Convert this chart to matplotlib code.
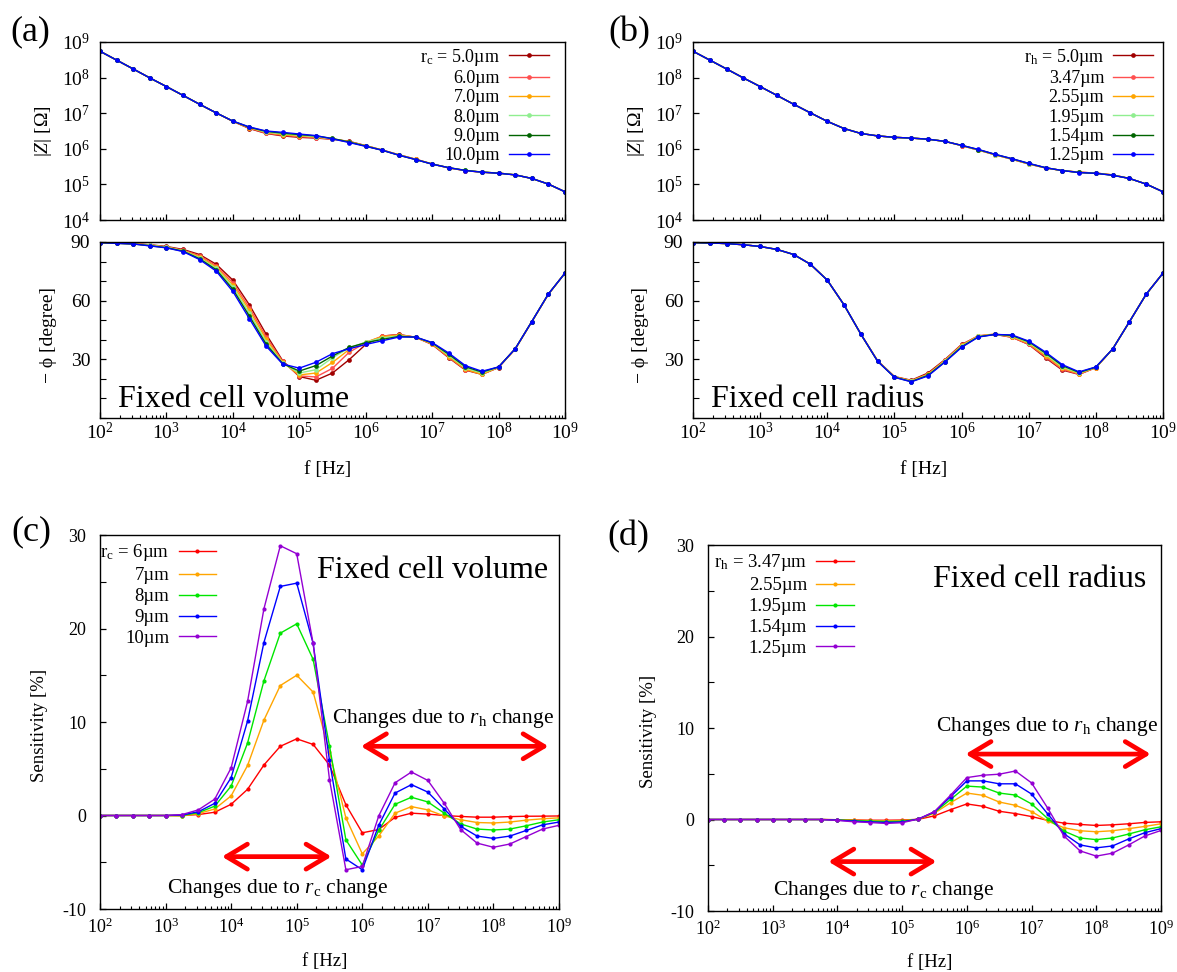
import matplotlib
matplotlib.use("Agg")
import matplotlib.pyplot as plt
from matplotlib.ticker import (LogLocator, LogFormatterMathtext, NullFormatter,
                               NullLocator, MultipleLocator, FixedLocator)

plt.rcParams.update({
    "font.family": ["Liberation Serif", "DejaVu Serif"],
    "mathtext.fontset": "custom",
    "mathtext.rm": "Liberation Serif",
    "mathtext.it": "Liberation Serif:italic",
    "mathtext.bf": "Liberation Serif:bold",
    "axes.unicode_minus": False,
    "xtick.direction": "in",
    "ytick.direction": "in",
    "axes.linewidth": 1.0,
})

# ── data ──────────────────────────────────────────────────────────────────────
FREQ_HZ = [1.00e2, 1.78e2, 3.16e2, 5.62e2, 1.00e3, 1.78e3, 3.16e3, 5.62e3,
           1.00e4, 1.78e4, 3.16e4, 5.62e4, 1.00e5, 1.78e5, 3.16e5, 5.62e5,
           1.00e6, 1.78e6, 3.16e6, 5.62e6, 1.00e7, 1.78e7, 3.16e7, 5.62e7,
           1.00e8, 1.78e8, 3.16e8, 5.62e8, 1.00e9]

# (a) fixed cell volume, |Z| [Ohm]
Z_RC_50 = [5.5e8, 3.1e8, 1.75e8, 9.8e7, 5.6e7, 3.16e7, 1.78e7, 1.02e7, 5.9e6,
           3.7e6, 2.7e6, 2.3e6, 2.1e6, 2.0e6, 1.86e6, 1.62e6, 1.23e6, 9.2e5,
           6.8e5, 5.1e5, 3.75e5, 2.9e5, 2.45e5, 2.2e5, 2.08e5, 1.85e5, 1.47e5,
           1.02e5, 6.2e4]
Z_RC_60 = [5.5e8, 3.1e8, 1.75e8, 9.8e7, 5.6e7, 3.16e7, 1.78e7, 1.02e7, 5.9e6,
           3.8e6, 2.75e6, 2.4e6, 2.2e6, 2.05e6, 1.86e6, 1.58e6, 1.22e6, 9.2e5,
           6.8e5, 5.1e5, 3.75e5, 2.9e5, 2.45e5, 2.2e5, 2.08e5, 1.85e5, 1.47e5,
           1.02e5, 6.2e4]
Z_RC_70 = [5.5e8, 3.1e8, 1.75e8, 9.8e7, 5.6e7, 3.16e7, 1.78e7, 1.02e7, 5.95e6,
           3.9e6, 2.9e6, 2.5e6, 2.3e6, 2.15e6, 1.9e6, 1.58e6, 1.21e6, 9.15e5,
           6.7e5, 5.05e5, 3.75e5, 2.92e5, 2.45e5, 2.2e5, 2.08e5, 1.85e5, 1.47e5,
           1.02e5, 6.2e4]
Z_RC_80 = [5.5e8, 3.1e8, 1.75e8, 9.8e7, 5.6e7, 3.16e7, 1.78e7, 1.02e7, 6.0e6,
           4.0e6, 2.95e6, 2.63e6, 2.4e6, 2.2e6, 1.9e6, 1.55e6, 1.2e6, 9.1e5,
           6.7e5, 5.0e5, 3.72e5, 2.93e5, 2.47e5, 2.22e5, 2.08e5, 1.85e5, 1.47e5,
           1.02e5, 6.2e4]
Z_RC_90 = [5.5e8, 3.1e8, 1.75e8, 9.8e7, 5.6e7, 3.16e7, 1.78e7, 1.02e7, 6.0e6,
           4.0e6, 3.1e6, 2.75e6, 2.5e6, 2.3e6, 1.95e6, 1.55e6, 1.19e6, 9.1e5,
           6.6e5, 5.0e5, 3.72e5, 2.95e5, 2.48e5, 2.22e5, 2.07e5, 1.85e5, 1.47e5,
           1.02e5, 6.2e4]
Z_RC_100 = [5.5e8, 3.1e8, 1.75e8, 9.8e7, 5.6e7, 3.16e7, 1.78e7, 1.02e7, 6.0e6,
            4.1e6, 3.16e6, 2.9e6, 2.6e6, 2.35e6, 1.9e6, 1.5e6, 1.17e6, 9.1e5,
            6.6e5, 5.0e5, 3.7e5, 2.95e5, 2.45e5, 2.2e5, 2.05e5, 1.85e5, 1.47e5,
            1.02e5, 6.2e4]

# (a) fixed cell volume, -phase [degree]
P_RC_50 = [89.7, 89.5, 89.2, 88.6, 87.7, 86.2, 83.6, 78.6, 70.5, 57.8, 42.9,
           29.3, 21.2, 19.3, 23.0, 29.8, 37.6, 41.9, 42.7, 41.3, 37.6, 30.8,
           24.5, 22.3, 25.8, 35.3, 49.2, 63.3, 74.1]
P_RC_60 = [89.7, 89.4, 89.1, 88.5, 87.5, 85.8, 83.0, 77.8, 69.2, 56.3, 41.5,
           28.9, 21.5, 21.0, 25.4, 33.6, 38.5, 41.9, 42.6, 41.3, 37.7, 31.0,
           24.7, 22.4, 25.9, 35.3, 49.2, 63.3, 74.1]
P_RC_70 = [89.7, 89.4, 89.1, 88.4, 87.4, 85.6, 82.4, 77.1, 68.0, 55.0, 40.3,
           28.5, 22.0, 23.0, 28.4, 35.0, 38.8, 41.6, 42.4, 41.3, 37.9, 31.4,
           25.0, 22.3, 26.0, 35.3, 49.2, 63.3, 74.1]
P_RC_80 = [89.7, 89.4, 89.0, 88.3, 87.3, 85.5, 81.9, 76.5, 67.0, 53.5, 39.0,
           28.1, 23.0, 24.7, 30.8, 35.8, 38.8, 41.0, 42.0, 41.4, 38.2, 32.0,
           25.6, 23.0, 26.0, 35.4, 49.3, 63.4, 74.1]
P_RC_90 = [89.7, 89.3, 89.0, 88.1, 87.1, 85.3, 81.4, 75.8, 65.8, 52.0, 37.8,
           27.8, 24.0, 26.8, 31.7, 36.1, 38.5, 40.2, 41.7, 41.4, 38.4, 32.6,
           26.2, 23.5, 26.1, 35.4, 49.3, 63.4, 74.1]
P_RC_100 = [89.7, 89.3, 89.0, 88.0, 87.0, 85.1, 81.0, 75.1, 64.7, 50.7, 36.8,
            27.6, 25.5, 28.5, 32.9, 35.4, 37.6, 39.5, 41.4, 41.4, 38.6, 33.2,
            26.8, 23.9, 26.1, 35.4, 49.3, 63.4, 74.1]

# (b) fixed cell radius, |Z| [Ohm]
Z_RH_500 = Z_RC_50
Z_RH_347 = [5.5e8, 3.1e8, 1.75e8, 9.8e7, 5.6e7, 3.16e7, 1.78e7, 1.02e7, 5.9e6,
            3.7e6, 2.7e6, 2.3e6, 2.1e6, 2.0e6, 1.86e6, 1.62e6, 1.23e6, 9.25e5,
            6.8e5, 5.1e5, 3.75e5, 2.9e5, 2.45e5, 2.2e5, 2.08e5, 1.84e5, 1.47e5,
            1.02e5, 6.2e4]
Z_RH_255 = [5.5e8, 3.1e8, 1.75e8, 9.8e7, 5.6e7, 3.16e7, 1.78e7, 1.02e7, 5.9e6,
            3.7e6, 2.7e6, 2.3e6, 2.1e6, 2.0e6, 1.86e6, 1.62e6, 1.24e6, 9.3e5,
            6.85e5, 5.15e5, 3.8e5, 2.92e5, 2.45e5, 2.18e5, 2.07e5, 1.83e5, 1.47e5,
            1.02e5, 6.2e4]
Z_RH_195 = [5.5e8, 3.1e8, 1.75e8, 9.8e7, 5.6e7, 3.16e7, 1.78e7, 1.02e7, 5.9e6,
            3.7e6, 2.7e6, 2.3e6, 2.1e6, 2.0e6, 1.86e6, 1.62e6, 1.24e6, 9.4e5,
            6.9e5, 5.2e5, 3.85e5, 2.93e5, 2.45e5, 2.17e5, 2.06e5, 1.82e5, 1.47e5,
            1.02e5, 6.2e4]
Z_RH_154 = [5.5e8, 3.1e8, 1.75e8, 9.8e7, 5.6e7, 3.16e7, 1.78e7, 1.02e7, 5.9e6,
            3.7e6, 2.7e6, 2.3e6, 2.1e6, 2.0e6, 1.86e6, 1.62e6, 1.25e6, 9.5e5,
            6.95e5, 5.25e5, 3.87e5, 2.94e5, 2.45e5, 2.16e5, 2.05e5, 1.81e5, 1.47e5,
            1.02e5, 6.2e4]
Z_RH_125 = [5.5e8, 3.1e8, 1.75e8, 9.8e7, 5.6e7, 3.16e7, 1.78e7, 1.02e7, 5.9e6,
            3.7e6, 2.7e6, 2.3e6, 2.1e6, 2.0e6, 1.86e6, 1.62e6, 1.25e6, 9.6e5,
            7.0e5, 5.3e5, 3.9e5, 2.95e5, 2.45e5, 2.15e5, 2.05e5, 1.8e5, 1.47e5,
            1.02e5, 6.2e4]

# (b) fixed cell radius, -phase [degree]
P_RH_500 = P_RC_50
P_RH_347 = [89.7, 89.5, 89.2, 88.6, 87.7, 86.2, 83.6, 78.6, 70.5, 57.8, 42.9,
            29.2, 21.1, 19.1, 22.5, 29.5, 37.4, 42.1, 42.9, 41.3, 37.7, 31.3,
            24.9, 22.4, 25.7, 35.3, 49.2, 63.3, 74.1]
P_RH_255 = [89.7, 89.5, 89.2, 88.6, 87.7, 86.2, 83.6, 78.6, 70.5, 57.8, 42.9,
            29.1, 21.0, 19.0, 22.3, 29.3, 37.1, 41.9, 42.9, 41.6, 38.1, 31.9,
            25.5, 22.7, 25.8, 35.3, 49.2, 63.3, 74.1]
P_RH_195 = [89.7, 89.5, 89.2, 88.6, 87.7, 86.2, 83.6, 78.6, 70.5, 57.8, 42.9,
            29.1, 20.9, 18.8, 22.0, 29.0, 36.8, 41.7, 42.8, 41.9, 38.6, 32.6,
            26.1, 23.0, 25.9, 35.3, 49.2, 63.3, 74.1]
P_RH_154 = [89.7, 89.5, 89.2, 88.6, 87.7, 86.2, 83.6, 78.6, 70.5, 57.8, 42.9,
            29.0, 20.9, 18.6, 21.8, 28.7, 36.4, 41.5, 42.8, 42.2, 39.0, 33.2,
            26.8, 23.3, 26.0, 35.3, 49.2, 63.3, 74.1]
P_RH_125 = [89.7, 89.5, 89.2, 88.6, 87.7, 86.2, 83.6, 78.6, 70.5, 57.8, 42.9,
            29.0, 20.8, 18.5, 21.5, 28.5, 36.1, 41.4, 42.7, 42.5, 39.3, 33.7,
            27.3, 23.6, 26.1, 35.3, 49.2, 63.3, 74.1]

# (c) sensitivity [%], fixed cell volume
S_RC_6 = [0, 0, 0, 0, 0, 0.0, 0.1, 0.35, 1.2, 2.8, 5.4, 7.4, 8.2, 7.6, 5.4,
          1.15, -1.85, -1.5, -0.2, 0.25, 0.15, 0.0, -0.1, -0.18, -0.18, -0.12,
          -0.08, -0.07, -0.05]
S_RC_7 = [0, 0, 0, 0, 0, -0.05, 0.2, 0.7, 2.1, 5.35, 10.2, 13.9, 15.0, 13.2,
          6.8, -0.25, -4.1, -2.2, 0.25, 0.95, 0.6, -0.05, -0.45, -0.75, -0.8,
          -0.7, -0.5, -0.35, -0.25]
S_RC_8 = [0, 0, 0, 0, 0, 0.0, 0.3, 1.0, 3.15, 7.75, 14.4, 19.5, 20.5, 16.7,
          7.45, -2.6, -5.3, -1.6, 1.2, 1.95, 1.45, 0.25, -0.9, -1.45, -1.55,
          -1.45, -1.1, -0.7, -0.45]
S_RC_9 = [0, 0, 0, 0, 0, 0.05, 0.4, 1.3, 4.05, 10.1, 18.5, 24.5, 24.85, 18.4,
          5.9, -4.65, -5.8, -1.05, 2.4, 3.3, 2.5, 0.7, -1.15, -2.2, -2.45,
          -2.2, -1.6, -1.0, -0.7]
S_RC_10 = [0, 0, 0, 0, 0, 0.1, 0.6, 1.75, 5.1, 12.2, 22.1, 28.85, 28.0, 18.4,
           3.85, -5.8, -5.45, -0.05, 3.5, 4.65, 3.75, 1.3, -1.5, -2.95, -3.4,
           -3.05, -2.25, -1.45, -1.05]

# (d) sensitivity [%], fixed cell radius
S_RH_347 = [0, 0, 0, 0, 0, 0, 0, 0, -0.02, -0.05, -0.08, -0.08, -0.06, 0.02,
            0.4, 1.08, 1.7, 1.44, 0.9, 0.65, 0.32, -0.1, -0.4, -0.54, -0.65,
            -0.58, -0.47, -0.32, -0.25]
S_RH_255 = [0, 0, 0, 0, 0, 0, 0, 0, -0.03, -0.08, -0.12, -0.14, -0.12, 0.03,
            0.7, 1.84, 2.89, 2.64, 1.91, 1.55, 0.87, -0.18, -0.9, -1.23, -1.34,
            -1.23, -1.0, -0.76, -0.47]
S_RH_195 = [0, 0, 0, 0, 0, 0, 0, 0, -0.05, -0.12, -0.18, -0.22, -0.2, 0.04,
            0.78, 2.2, 3.65, 3.54, 2.89, 2.67, 1.7, 0.1, -1.26, -2.02, -2.2,
            -2.02, -1.59, -1.12, -0.8]
S_RH_154 = [0, 0, 0, 0, 0, 0, 0, 0, -0.07, -0.18, -0.26, -0.32, -0.27, 0.05,
            0.83, 2.5, 4.22, 4.22, 3.9, 3.9, 2.78, 0.6, -1.55, -2.78, -3.1,
            -2.89, -2.13, -1.44, -1.0]
S_RH_125 = [0, 0, 0, 0, 0, 0, 0, 0, -0.1, -0.25, -0.33, -0.43, -0.35, 0.05,
            0.87, 2.67, 4.58, 4.84, 4.95, 5.3, 4.0, 1.23, -1.8, -3.43, -4.0,
            -3.68, -2.78, -1.8, -1.2]

LABELS_A = [r"r$_\mathrm{c}$ = 5.0µm", "6.0µm", "7.0µm", "8.0µm", "9.0µm", "10.0µm"]
LABELS_B = [r"r$_\mathrm{h}$ = 5.0µm", "3.47µm", "2.55µm", "1.95µm", "1.54µm", "1.25µm"]
LABELS_C = [r"r$_\mathrm{c}$ = 6µm", "7µm", "8µm", "9µm", "10µm"]
LABELS_D = [r"r$_\mathrm{h}$ = 3.47µm", "2.55µm", "1.95µm", "1.54µm", "1.25µm"]

COLORS_AB = ["#a00000", "#ff5050", "#ffa500", "#90ee90", "#006400", "#0000ff"]
COLORS_CD = ["#ff0000", "#ffa500", "#00e600", "#0000ff", "#9400d3"]

Z_A = [Z_RC_50, Z_RC_60, Z_RC_70, Z_RC_80, Z_RC_90, Z_RC_100]
P_A = [P_RC_50, P_RC_60, P_RC_70, P_RC_80, P_RC_90, P_RC_100]
Z_B = [Z_RH_500, Z_RH_347, Z_RH_255, Z_RH_195, Z_RH_154, Z_RH_125]
P_B = [P_RH_500, P_RH_347, P_RH_255, P_RH_195, P_RH_154, P_RH_125]
S_C = [S_RC_6, S_RC_7, S_RC_8, S_RC_9, S_RC_10]
S_D = [S_RH_347, S_RH_255, S_RH_195, S_RH_154, S_RH_125]

W, H = 1177, 972
RED = "#ff0000"


# ── helpers ───────────────────────────────────────────────────────────────────
def axes_px(fig, left, top, right, bottom):
    """Axes from pixel box (origin top-left)."""
    return fig.add_axes([left / W, 1 - bottom / H, (right - left) / W, (bottom - top) / H])


def log_x(ax, labels, size, pad):
    ax.set_xscale("log")
    ax.set_xlim(1e2, 1e9)
    ax.xaxis.set_major_locator(LogLocator(base=10, numticks=20))
    ax.xaxis.set_minor_locator(LogLocator(base=10, subs=range(2, 10), numticks=20))
    ax.xaxis.set_minor_formatter(NullFormatter())
    ax.xaxis.set_major_formatter(LogFormatterMathtext() if labels else NullFormatter())
    ax.tick_params(axis="x", which="major", length=4.5, width=0.9, labelsize=size, pad=pad,
                   top=False)
    ax.tick_params(axis="x", which="minor", length=2.5, width=0.8, top=False)


def lines(ax, series, labels, colors, ms):
    for ys, lab, col in zip(series, labels, colors):
        ax.plot(FREQ_HZ, ys, "-o", color=col, lw=1.0, ms=ms, mew=0, label=lab)


def legend(ax, size, spacing, hlen, **kw):
    return ax.legend(frameon=False, markerfirst=False, numpoints=1, fontsize=size,
                     handlelength=hlen, handletextpad=0.5, labelspacing=spacing,
                     borderpad=0.1, borderaxespad=0.2, **kw)


def arrow(ax, x0, x1, y):
    ax.annotate("", xy=(x1, y), xytext=(x0, y),
                arrowprops=dict(arrowstyle="<->, head_length=0.75, head_width=0.45",
                                color=RED, lw=3.4, shrinkA=0, shrinkB=0,
                                mutation_scale=20))


fig = plt.figure(figsize=(W / 100, H / 100), dpi=100)

# ── (a) / (b) impedance panels ───────────────────────────────────────────────
for Zs, Ps, labs, title, box, lgx in [
        (Z_A, P_A, LABELS_A, "Fixed cell volume", (100, 565), 0.977),
        (Z_B, P_B, LABELS_B, "Fixed cell radius", (693, 1163), 0.99)]:
    left, right = box
    axz = axes_px(fig, left, 42, right, 220)
    axp = axes_px(fig, left, 242, right, 418)

    lines(axz, Zs, labs, COLORS_AB, 3.4)
    axz.set_yscale("log")
    axz.set_ylim(1e4, 1e9)
    axz.yaxis.set_major_locator(LogLocator(base=10, numticks=10))
    axz.yaxis.set_minor_locator(NullLocator())
    axz.yaxis.set_major_formatter(LogFormatterMathtext())
    axz.tick_params(axis="y", length=4.5, width=0.9, labelsize=14, pad=7, right=False)
    log_x(axz, False, 14, 3)
    axz.set_ylabel(r"|$Z$| [Ω]", fontsize=14)
    axz.yaxis.set_label_coords(-0.098, 0.5)
    legend(axz, 13, 0.13, 2.2, loc="upper right", bbox_to_anchor=(lgx, 1.005))

    lines(axp, Ps, labs, COLORS_AB, 3.4)
    axp.set_ylim(0, 90)
    axp.yaxis.set_major_locator(FixedLocator([30, 60, 90]))
    axp.yaxis.set_minor_locator(MultipleLocator(10))
    axp.tick_params(axis="y", which="major", length=4.5, width=0.9, labelsize=14, pad=7,
                    right=False)
    axp.tick_params(axis="y", which="minor", length=4.5, width=0.8, right=False)
    log_x(axp, True, 14, 3)
    axp.set_ylabel("− ϕ [degree]", fontsize=14)
    axp.yaxis.set_label_coords(-0.093, 0.47)
    axp.set_xlabel("f [Hz]", fontsize=14)
    axp.xaxis.set_label_coords(0.49, -0.245)
    axp.text(0.038, 0.06, title, transform=axp.transAxes, fontsize=23,
             ha="left", va="baseline")

# ── (c) / (d) sensitivity panels ─────────────────────────────────────────────
for Ss, labs, title, box, yrh, yrc, tx, lx in [
        (S_C, LABELS_C, "Fixed cell volume", (100, 535, 559, 909), 7.4, -4.4, 0.976, -0.012),
        (S_D, LABELS_D, "Fixed cell radius", (708, 545, 1161, 911), 7.15, -4.6, 0.967, 0.0)]:
    ax = axes_px(fig, *box)
    lines(ax, Ss, labs, COLORS_CD, 3.0)
    ax.set_ylim(-10, 30)
    ax.yaxis.set_major_locator(MultipleLocator(10))
    ax.yaxis.set_minor_locator(MultipleLocator(5))
    ax.tick_params(axis="y", which="major", length=4.5, width=0.9, labelsize=13, pad=10,
                   right=False)
    ax.tick_params(axis="y", which="minor", length=4.5, width=0.8, right=False)
    log_x(ax, True, 13, 6)
    ax.set_ylabel("Sensitivity [%]", fontsize=13.5)
    ax.yaxis.set_label_coords(-0.113, 0.49)
    ax.set_xlabel("f [Hz]", fontsize=13.5)
    ax.xaxis.set_label_coords(0.49, -0.118)
    legend(ax, 13.5, 0.2, 2.0, loc="upper left", bbox_to_anchor=(lx, 0.995))
    ax.text(tx, 0.885, title, transform=ax.transAxes, fontsize=23,
            ha="right", va="baseline")

    arrow(ax, 10 ** 5.98, 10 ** 8.84, yrh)
    arrow(ax, 10 ** 3.86, 10 ** 5.53, yrc)
    ax.text(10 ** 7.23, yrh + 3.0, r"Changes due to $r_\mathrm{h}$ change", fontsize=15.5,
            ha="center", va="center")
    ax.text(10 ** 4.71, -7.8, r"Changes due to $r_\mathrm{c}$ change", fontsize=15.5,
            ha="center", va="center")

# ── panel letters ─────────────────────────────────────────────────────────────
for lab, x, y in [("(a)", 30, 32), ("(b)", 629, 33), ("(c)", 31, 532), ("(d)", 628, 537)]:
    fig.text(x / W, 1 - y / H, lab, fontsize=26, ha="center", va="center")

fig.savefig("out.png", dpi=100)
